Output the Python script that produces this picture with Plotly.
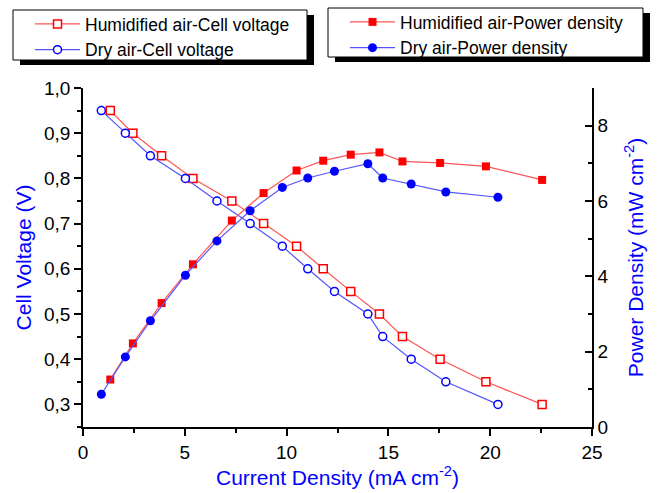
import plotly.graph_objects as go

# ---- data ----
hum_current = [1.34, 2.45, 3.86, 5.40, 7.31, 8.87, 10.49, 11.80, 13.15, 14.56, 15.69, 17.54, 19.79, 22.55]
hum_voltage = [0.95, 0.90, 0.85, 0.80, 0.75, 0.70, 0.65, 0.60, 0.55, 0.50, 0.45, 0.40, 0.35, 0.30]
hum_power = [1.26, 2.22, 3.29, 4.32, 5.48, 6.21, 6.81, 7.07, 7.23, 7.29, 7.05, 7.01, 6.92, 6.56]

dry_current = [0.90, 2.08, 3.31, 5.03, 6.58, 8.21, 9.79, 11.04, 12.35, 13.99, 14.72, 16.12, 17.82, 20.38]
dry_voltage = [0.95, 0.90, 0.85, 0.80, 0.75, 0.70, 0.65, 0.60, 0.55, 0.50, 0.45, 0.40, 0.35, 0.30]
dry_power = [0.87, 1.86, 2.82, 4.03, 4.94, 5.74, 6.36, 6.61, 6.79, 6.99, 6.61, 6.45, 6.24, 6.10]

names = ["Humidified air-Cell voltage", "Dry air-Cell voltage",
         "Humidified air-Power density", "Dry air-Power density"]

# ---- layout geometry (pixels) ----
W, H = 665, 493
ML, MR, MT, MB = 83, 73, 88, 66
PW, PH = W - ML - MR, H - MT - MB


def px(x):
    return (x - ML) / PW


def py(y):
    return (H - MB - y) / PH


FONT = "Arial, Liberation Sans, sans-serif"
RED_LINE = "rgb(255,85,85)"
BLUE_LINE = "rgb(85,85,255)"

fig = go.Figure()
fig.add_trace(go.Scatter(
    x=hum_current, y=hum_voltage, name=names[0], mode="lines+markers",
    line=dict(color=RED_LINE, width=1.2),
    marker=dict(symbol="square", size=8, color="white", line=dict(color="red", width=1.5)),
    legend="legend"))
fig.add_trace(go.Scatter(
    x=dry_current, y=dry_voltage, name=names[1], mode="lines+markers",
    line=dict(color=BLUE_LINE, width=1.2),
    marker=dict(symbol="circle", size=8, color="white", line=dict(color="blue", width=1.5)),
    legend="legend"))
fig.add_trace(go.Scatter(
    x=hum_current, y=hum_power, name=names[2], mode="lines+markers", yaxis="y2",
    line=dict(color=RED_LINE, width=1.2),
    marker=dict(symbol="square", size=8, color="red", line=dict(width=0)),
    legend="legend2"))
fig.add_trace(go.Scatter(
    x=dry_current, y=dry_power, name=names[3], mode="lines+markers", yaxis="y2",
    line=dict(color=BLUE_LINE, width=1.2),
    marker=dict(symbol="circle", size=9, color="blue", line=dict(width=0)),
    legend="legend2"))

# legend boxes with shadow (drawn as shapes)
shapes = []
for (x0, y0, x1, y1) in [(13, 10, 307, 60), (328, 8, 643, 57)]:
    shapes.append(dict(type="rect", xref="paper", yref="paper",
                       x0=px(x0 + 7), x1=px(x1 + 7), y0=py(y1 + 5), y1=py(y0 + 5),
                       fillcolor="black", line=dict(width=0), layer="above"))
    shapes.append(dict(type="rect", xref="paper", yref="paper",
                       x0=px(x0), x1=px(x1), y0=py(y1), y1=py(y0),
                       fillcolor="white", line=dict(color="black", width=1), layer="above"))

axis_common = dict(
    showline=True, linecolor="black", linewidth=1.5, showgrid=False, zeroline=False,
    tickcolor="black", tickwidth=1.5, ticklen=7,
    tickfont=dict(family=FONT, size=19, color="black"),
)

fig.update_layout(
    width=W, height=H,
    margin=dict(l=ML, r=MR, t=MT, b=MB, autoexpand=False),
    paper_bgcolor="white", plot_bgcolor="white",
    separators=",.",
    font=dict(family=FONT, color="black"),
    shapes=shapes,
    xaxis=dict(
        range=[0, 25], dtick=5, tick0=0, ticks="outside",
        minor=dict(dtick=2.5, ticks="outside", ticklen=4, tickcolor="black", tickwidth=1.5),
        title=dict(text="Current Density (mA cm<sup>-2</sup>)",
                   font=dict(family=FONT, size=21, color="blue"), standoff=9),
        **axis_common),
    yaxis=dict(
        range=[0.25, 1.0], dtick=0.1, tick0=0, ticks="outside", tickformat=".1f",
        minor=dict(dtick=0.05, ticks="outside", ticklen=4, tickcolor="black", tickwidth=1.5),
        title=dict(text="Cell Voltage (V)", font=dict(family=FONT, size=21, color="blue"), standoff=7),
        **axis_common),
    yaxis2=dict(
        range=[0, 9], dtick=2, tick0=0, ticks="inside", overlaying="y", side="right",
        minor=dict(dtick=1, ticks="inside", ticklen=4, tickcolor="black", tickwidth=1.5),
        title=dict(text="Power Density (mW cm<sup>-2</sup>)", font=dict(family=FONT, size=21, color="blue"), standoff=21),
        **axis_common),
    legend=dict(x=px(30), y=py(6), xanchor="left", yanchor="top",
                bgcolor="rgba(0,0,0,0)", borderwidth=0, itemwidth=45,
                font=dict(family=FONT, size=17.5, color="black"), tracegroupgap=0),
    legend2=dict(x=px(345), y=py(4), xanchor="left", yanchor="top",
                 bgcolor="rgba(0,0,0,0)", borderwidth=0, itemwidth=45,
                 font=dict(family=FONT, size=17.5, color="black"), tracegroupgap=0),
)

fig.write_html("out.html")
